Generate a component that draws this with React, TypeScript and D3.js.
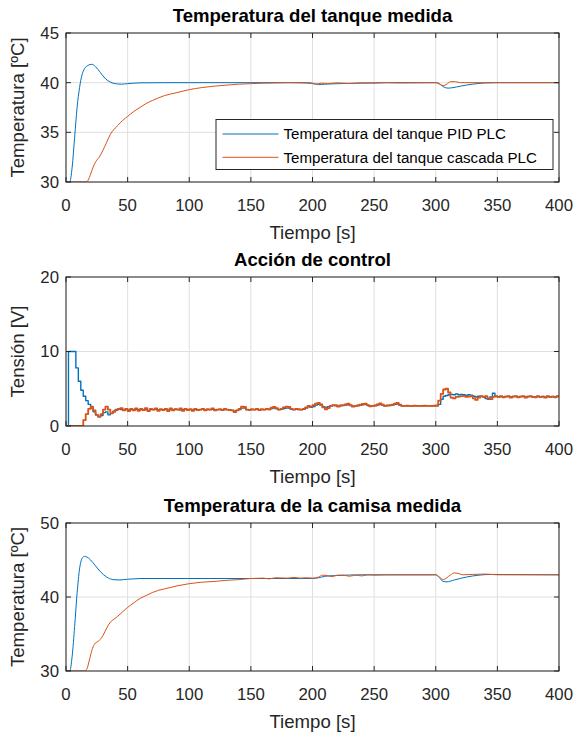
import React from "react";
import * as d3 from "d3";

// ---------- DATA ----------
const xTicks = [0, 50, 100, 150, 200, 250, 300, 350, 400];
const tankTicks = [30, 35, 40, 45];
const controlTicks = [0, 10, 20];
const jacketTicks = [30, 40, 50];

const titles = ["Temperatura del tanque medida", "Acción de control", "Temperatura de la camisa medida"];
const yLabels = ["Temperatura [ºC]", "Tensión [V]", "Temperatura [ºC]"];
const xLabel = "Tiempo [s]";
const legendLabels = ["Temperatura del tanque PID PLC", "Temperatura del tanque cascada PLC"];

// Tank temperature, PID
const tankPidT = [0, 3, 5, 7, 9, 11, 13, 15, 18, 21, 24, 28, 32, 36, 40, 45, 50, 60, 80, 100, 150, 195, 200, 205, 210, 220, 240, 260, 300, 303, 306, 310, 314, 320, 330, 340, 350, 400];
const tankPidV = [30, 30, 31.5, 34.5, 37.5, 39.5, 40.8, 41.4, 41.75, 41.85, 41.6, 41.0, 40.4, 40.05, 39.9, 39.85, 39.9, 39.98, 40.0, 40.0, 40.0, 40.0, 39.95, 39.8, 39.85, 39.9, 39.95, 40.0, 40.0, 39.9, 39.6, 39.45, 39.5, 39.65, 39.85, 39.97, 40.0, 40.0];

// Tank temperature, cascade
const tankCasT = [0, 16, 18, 20, 22, 25, 27, 30, 33, 36, 39, 42, 46, 50, 55, 60, 65, 70, 80, 90, 100, 110, 120, 130, 140, 150, 160, 170, 180, 190, 200, 203, 207, 212, 220, 230, 240, 250, 260, 270, 300, 303, 306, 309, 312, 316, 320, 400];
const tankCasV = [30, 30, 30.2, 30.8, 31.5, 32.2, 32.5, 33.2, 34.0, 34.8, 35.3, 35.7, 36.2, 36.6, 37.1, 37.5, 37.9, 38.2, 38.7, 39.0, 39.3, 39.5, 39.65, 39.75, 39.85, 39.9, 39.95, 39.97, 40.0, 39.98, 39.9, 39.85, 39.95, 39.9, 39.98, 39.92, 39.98, 39.95, 40.0, 39.97, 40.0, 39.85, 39.7, 39.85, 40.1, 40.1, 40.0, 40.0];

// Jacket temperature, PID
const jackPidT = [0, 3, 5, 7, 9, 11, 13, 15, 17, 20, 24, 28, 33, 38, 43, 50, 55, 60, 200, 205, 210, 220, 240, 300, 303, 306, 309, 315, 325, 335, 345, 400];
const jackPidV = [30, 30, 32, 36, 40.5, 43.8, 45.2, 45.5, 45.4, 45.0, 44.2, 43.4, 42.7, 42.35, 42.3, 42.4, 42.45, 42.5, 42.5, 42.6, 42.8, 42.9, 43.0, 43.0, 42.6, 42.1, 42.05, 42.3, 42.7, 42.95, 43.05, 43.0];

// Jacket temperature, cascade
const jackCasT = [0, 15, 17, 19, 21, 23, 26, 28, 30, 33, 36, 39, 42, 46, 50, 55, 60, 65, 70, 75, 80, 90, 100, 110, 120, 130, 140, 150, 160, 165, 170, 180, 185, 190, 195, 200, 205, 208, 212, 216, 220, 225, 230, 235, 240, 245, 250, 260, 300, 303, 306, 309, 312, 315, 318, 322, 330, 340, 350, 400];
const jackCasV = [30, 30, 30.3, 31.5, 32.8, 33.6, 34.0, 34.3, 34.8, 35.8, 36.6, 37.0, 37.4, 38.0, 38.6, 39.2, 39.8, 40.2, 40.6, 40.9, 41.1, 41.5, 41.8, 42.0, 42.1, 42.25, 42.35, 42.5, 42.55, 42.45, 42.6, 42.55, 42.65, 42.55, 42.6, 42.55, 42.7, 42.95, 42.9, 42.75, 42.95, 42.95, 42.8, 42.95, 42.85, 43.0, 42.95, 43.0, 43.0, 42.7, 42.35, 42.6, 43.0, 43.25, 43.2, 43.0, 43.05, 43.1, 43.0, 43.0];

// Control action, sampled every 2 s from 0 to 400
const controlStep = 2;
const ctrlPid = [
  0, 10, 10, 10, 7.8, 6.0, 4.8, 4.0, 3.4, 2.9, 2.4, 1.9, 1.5, 1.25, 1.4, 1.8, 1.9, 1.5, 1.7, 2.0, 2.1, 2.3, 2.2, 2.1, 2.2, 2.15,
  2.2, 2.15, 2.25, 2.2, 2.2, 2.15, 2.25, 2.1, 2.2, 2.2, 2.25, 2.15, 2.2, 2.2, 2.25, 2.15, 2.2, 2.2, 2.25, 2.2, 2.15, 2.2, 2.25, 2.2,
  2.2, 2.15, 2.2, 2.15, 2.2, 2.25, 2.15, 2.2, 2.2, 2.25, 2.15, 2.2, 2.2, 2.15, 2.2, 2.2, 2.15, 2.1, 2.0, 2.1, 2.2, 2.4, 2.4, 2.2, 2.2,
  2.2, 2.2, 2.25, 2.2, 2.2, 2.2, 2.25, 2.2, 2.35, 2.4, 2.3, 2.2, 2.25, 2.35, 2.4, 2.4, 2.25, 2.2, 2.25, 2.2, 2.2, 2.25, 2.4, 2.6, 2.5,
  2.6, 2.8, 2.9, 2.8, 2.6, 2.5, 2.6, 2.7, 2.75, 2.8, 2.7, 2.75, 2.75, 2.8, 2.85, 2.75, 2.65, 2.7, 2.75, 2.8, 2.85, 2.9, 2.75, 2.65, 2.7,
  2.75, 2.8, 2.9, 2.8, 2.7, 2.75, 2.75, 2.8, 2.9, 2.95, 2.8, 2.7, 2.7, 2.72, 2.7, 2.7, 2.72, 2.7, 2.7, 2.7, 2.72, 2.7, 2.7, 2.7, 2.72, 2.72,
  2.9, 3.6, 4.0, 4.1, 4.2, 4.25, 4.2, 4.3, 4.2, 4.25, 4.2, 4.1, 4.2, 4.15, 4.0, 3.9, 4.0, 3.95, 3.9, 3.7, 3.6, 3.9, 4.4, 4.0, 3.9,
  3.95, 3.9, 3.95, 3.95, 3.9, 3.95, 3.95, 3.9, 3.95, 3.95, 3.9, 3.95, 3.95, 3.9, 3.9, 3.95, 3.9, 3.95, 3.9, 3.95, 3.9, 3.95, 3.9, 3.95, 3.95,
];
const ctrlCas = [
  0, 0, 0, 0, 0, 0, 0, 0.8, 1.6, 2.3, 2.6, 2.1, 1.5, 1.25, 1.6, 2.2, 2.6, 2.2, 1.7, 1.9, 2.2, 2.3, 2.4, 2.1, 2.3, 2.0,
  2.3, 2.1, 2.35, 2.05, 2.3, 2.15, 2.4, 2.0, 2.3, 2.2, 2.35, 2.05, 2.25, 2.15, 2.3, 2.0, 2.35, 2.1, 2.25, 2.2, 2.35, 2.05, 2.3, 2.15,
  2.25, 2.05, 2.3, 2.15, 2.2, 2.3, 2.1, 2.25, 2.2, 2.35, 2.1, 2.2, 2.25, 2.15, 2.3, 2.2, 2.15, 2.1, 1.85, 2.1, 2.3, 2.6, 2.55, 2.2, 2.15,
  2.25, 2.2, 2.3, 2.15, 2.25, 2.2, 2.3, 2.25, 2.45, 2.55, 2.4, 2.2, 2.3, 2.5, 2.6, 2.55, 2.3, 2.2, 2.3, 2.25, 2.2, 2.3, 2.5, 2.7, 2.6,
  2.8, 3.0, 3.1, 2.9, 2.5, 2.25, 2.4, 2.7, 2.8, 2.75, 2.6, 2.75, 2.8, 2.9, 3.0, 2.8, 2.6, 2.7, 2.75, 2.85, 2.95, 3.0, 2.8, 2.65, 2.7,
  2.75, 2.9, 3.05, 2.85, 2.7, 2.75, 2.8, 2.85, 3.0, 3.1, 2.85, 2.7, 2.7, 2.72, 2.7, 2.7, 2.72, 2.7, 2.7, 2.7, 2.72, 2.7, 2.7, 2.7, 2.72, 2.75,
  3.4, 4.3, 4.9, 5.0, 4.5, 3.8, 3.7, 3.9, 3.95, 4.0, 4.05, 3.9, 3.95, 4.0, 3.7, 3.5, 3.8, 4.0, 3.95, 4.0, 3.7, 3.6, 3.9, 4.0, 3.9,
  4.0, 3.85, 3.95, 4.0, 3.8, 3.95, 4.0, 3.85, 3.95, 4.0, 3.8, 3.95, 4.0, 3.9, 3.85, 4.0, 3.9, 3.95, 3.8, 4.0, 3.9, 3.95, 3.85, 4.0, 3.95,
];

// ---------- STYLE ----------
const BLUE = "#0072BD";
const ORANGE = "#D95319";
const AXIS = "#262626";
const GRID = "#DFDFDF";
const FONT = "'Liberation Sans', Arial, Helvetica, sans-serif";

type Series = { t: number[]; v: number[]; color: string; width: number };

const X0 = 66;
const X1 = 559;

function Panel(props: {
  top: number;
  bottom: number;
  yDomain: [number, number];
  yTicks: number[];
  title: string;
  yLabel: string;
  series: Series[];
  legend?: boolean;
}) {
  const { top, bottom, yDomain, yTicks, title, yLabel, series, legend } = props;
  const x = d3.scaleLinear().domain([0, 400]).range([X0, X1]);
  const y = d3.scaleLinear().domain(yDomain).range([bottom, top]);
  const tl = 5;
  const clipId = `clip-${top}`;
  return (
    <g>
      <defs>
        <clipPath id={clipId}>
          <rect x={X0} y={top} width={X1 - X0} height={bottom - top} />
        </clipPath>
      </defs>
      <rect x={X0} y={top} width={X1 - X0} height={bottom - top} fill="#fff" />
      {xTicks.map((t) => (
        <line key={"gx" + t} x1={x(t)} x2={x(t)} y1={top} y2={bottom} stroke={GRID} strokeWidth={1} />
      ))}
      {yTicks.map((t) => (
        <line key={"gy" + t} x1={X0} x2={X1} y1={y(t)} y2={y(t)} stroke={GRID} strokeWidth={1} />
      ))}
      <g clipPath={`url(#${clipId})`}>
        {series.map((s, i) => {
          const pts: [number, number][] = s.v.map((v, k) => [s.t[k], v]).filter((p) => p[0] !== undefined) as [number, number][];
          const line = d3
            .line<[number, number]>()
            .x((d) => x(d[0]))
            .y((d) => y(d[1]))
            .curve(s.t.length > 100 ? d3.curveStepAfter : d3.curveMonotoneX);
          return <path key={i} d={line(pts) || ""} fill="none" stroke={s.color} strokeWidth={s.width} strokeLinejoin="round" />;
        })}
      </g>
      {/* ticks */}
      {xTicks.map((t) => (
        <g key={"tx" + t}>
          <line x1={x(t)} x2={x(t)} y1={bottom} y2={bottom - tl} stroke={AXIS} strokeWidth={1} />
          <line x1={x(t)} x2={x(t)} y1={top} y2={top + tl} stroke={AXIS} strokeWidth={1} />
          <text x={x(t)} y={bottom + 29} textAnchor="middle" fontSize={16.8} fill={AXIS} fontFamily={FONT}>
            {t}
          </text>
        </g>
      ))}
      {yTicks.map((t) => (
        <g key={"ty" + t}>
          <line x1={X0} x2={X0 + tl} y1={y(t)} y2={y(t)} stroke={AXIS} strokeWidth={1} />
          <line x1={X1} x2={X1 - tl} y1={y(t)} y2={y(t)} stroke={AXIS} strokeWidth={1} />
          <text x={X0 - 7} y={y(t)} dy="0.35em" textAnchor="end" fontSize={16.8} fill={AXIS} fontFamily={FONT}>
            {t}
          </text>
        </g>
      ))}
      <rect x={X0} y={top} width={X1 - X0} height={bottom - top} fill="none" stroke={AXIS} strokeWidth={1} />
      <text x={(X0 + X1) / 2} y={top - 11} textAnchor="middle" fontSize={18.6} fontWeight="bold" fill="#000" fontFamily={FONT}>
        {title}
      </text>
      <text x={(X0 + X1) / 2} y={bottom + 57} textAnchor="middle" fontSize={18.6} fill={AXIS} fontFamily={FONT}>
        {xLabel}
      </text>
      <text
        transform={`translate(${24},${(top + bottom) / 2}) rotate(-90)`}
        textAnchor="middle"
        fontSize={18.6}
        fill={AXIS}
        fontFamily={FONT}
      >
        {yLabel}
      </text>
      {legend && (
        <g>
          <rect x={216} y={119.5} width={337} height={50} fill="#fff" stroke={AXIS} strokeWidth={1} />
          {legendLabels.map((lab, i) => (
            <g key={lab}>
              <line x1={222.5} x2={278.5} y1={134 + i * 23.3} y2={134 + i * 23.3} stroke={i === 0 ? BLUE : ORANGE} strokeWidth={1} />
              <text x={283.5} y={134 + i * 23.3} dy="0.35em" fontSize={15.1} fill="#000" fontFamily={FONT}>
                {lab}
              </text>
            </g>
          ))}
        </g>
      )}
    </g>
  );
}

export default function App() {
  const ctrlT = d3.range(0, 400 + controlStep, controlStep);
  const n1 = Math.min(ctrlT.length, ctrlPid.length);
  const n2 = Math.min(ctrlT.length, ctrlCas.length);
  return (
    <svg width={577} height={738} style={{ position: "absolute", left: 0, top: 0, background: "#fff" }}>
      <rect x={0} y={0} width={577} height={738} fill="#fff" />
      <Panel
        top={33}
        bottom={182}
        yDomain={[30, 45]}
        yTicks={tankTicks}
        title={titles[0]}
        yLabel={yLabels[0]}
        legend
        series={[
          { t: tankPidT, v: tankPidV, color: BLUE, width: 1 },
          { t: tankCasT, v: tankCasV, color: ORANGE, width: 1 },
        ]}
      />
      <Panel
        top={277}
        bottom={426}
        yDomain={[0, 20]}
        yTicks={controlTicks}
        title={titles[1]}
        yLabel={yLabels[1]}
        series={[
          { t: ctrlT.slice(0, n1), v: ctrlPid.slice(0, n1), color: BLUE, width: 1.4 },
          { t: ctrlT.slice(0, n2), v: ctrlCas.slice(0, n2), color: ORANGE, width: 1.8 },
        ]}
      />
      <Panel
        top={523}
        bottom={671}
        yDomain={[30, 50]}
        yTicks={jacketTicks}
        title={titles[2]}
        yLabel={yLabels[2]}
        series={[
          { t: jackPidT, v: jackPidV, color: BLUE, width: 1 },
          { t: jackCasT, v: jackCasV, color: ORANGE, width: 1 },
        ]}
      />
    </svg>
  );
}
